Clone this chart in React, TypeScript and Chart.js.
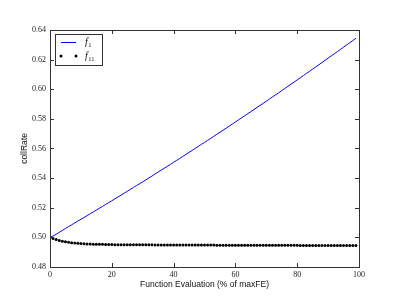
import React, { useEffect, useRef } from "react";
import { Chart, registerables } from "chart.js";

Chart.register(...registerables);

const evals = [
  0, 1, 2, 3, 4, 5, 6, 7, 8, 9, 10, 11, 12, 13, 14, 15, 16, 17, 18, 19,
  20, 21, 22, 23, 24, 25, 26, 27, 28, 29, 30, 31, 32, 33, 34, 35, 36, 37, 38, 39,
  40, 41, 42, 43, 44, 45, 46, 47, 48, 49, 50, 51, 52, 53, 54, 55, 56, 57, 58, 59,
  60, 61, 62, 63, 64, 65, 66, 67, 68, 69, 70, 71, 72, 73, 74, 75, 76, 77, 78, 79,
  80, 81, 82, 83, 84, 85, 86, 87, 88, 89, 90, 91, 92, 93, 94, 95, 96, 97, 98, 99,
];

const f1Values = [
  0.5, 0.5009, 0.5021, 0.5034, 0.5047, 0.506, 0.5073, 0.5085, 0.5097, 0.511,
  0.5122, 0.5134, 0.5147, 0.5159, 0.5172, 0.5184, 0.5197, 0.5209, 0.5222, 0.5235,
  0.5247, 0.526, 0.5273, 0.5285, 0.5298, 0.5311, 0.5324, 0.5337, 0.535, 0.5362,
  0.5375, 0.5388, 0.5401, 0.5414, 0.5428, 0.5441, 0.5454, 0.5467, 0.548, 0.5493,
  0.5507, 0.552, 0.5533, 0.5547, 0.556, 0.5574, 0.5587, 0.5601, 0.5614, 0.5628,
  0.5641, 0.5655, 0.5668, 0.5682, 0.5696, 0.571, 0.5723, 0.5737, 0.5751, 0.5765,
  0.5779, 0.5793, 0.5807, 0.5821, 0.5835, 0.5849, 0.5863, 0.5877, 0.5891, 0.5905,
  0.5919, 0.5933, 0.5948, 0.5962, 0.5976, 0.5991, 0.6005, 0.602, 0.6034, 0.6048,
  0.6063, 0.6077, 0.6092, 0.6107, 0.6121, 0.6136, 0.6151, 0.6165, 0.618, 0.6195,
  0.621, 0.6225, 0.6239, 0.6254, 0.6269, 0.6284, 0.6299, 0.6314, 0.6329, 0.6344,
];

const f11Values = [
  0.5, 0.4992, 0.4985, 0.4979, 0.4974, 0.497, 0.4967, 0.4964, 0.4962, 0.496,
  0.4958, 0.4957, 0.4956, 0.4955, 0.4954, 0.4954, 0.4953, 0.4953, 0.4952, 0.4952,
  0.4952, 0.4951, 0.4951, 0.4951, 0.4951, 0.4951, 0.495, 0.495, 0.495, 0.495,
  0.495, 0.495, 0.495, 0.495, 0.4949, 0.4949, 0.4949, 0.4949, 0.4949, 0.4949,
  0.4949, 0.4949, 0.4949, 0.4948, 0.4948, 0.4948, 0.4948, 0.4948, 0.4948, 0.4948,
  0.4948, 0.4948, 0.4948, 0.4948, 0.4947, 0.4947, 0.4947, 0.4947, 0.4947, 0.4947,
  0.4947, 0.4947, 0.4947, 0.4947, 0.4947, 0.4947, 0.4946, 0.4946, 0.4946, 0.4946,
  0.4946, 0.4946, 0.4946, 0.4946, 0.4946, 0.4946, 0.4946, 0.4946, 0.4946, 0.4946,
  0.4946, 0.4945, 0.4945, 0.4945, 0.4945, 0.4945, 0.4945, 0.4945, 0.4945, 0.4945,
  0.4945, 0.4945, 0.4945, 0.4945, 0.4945, 0.4945, 0.4945, 0.4945, 0.4945, 0.4945,
];

const xTicks = [0, 20, 40, 60, 80, 100];
const yTicks = [0.48, 0.5, 0.52, 0.54, 0.56, 0.58, 0.6, 0.62, 0.64];
const xTitle = "Function Evaluation (% of maxFE)";
const yTitle = "collRate";
const seriesNames = [
  { base: "f", sub: "1" },
  { base: "f", sub: "11" },
];

const framePlugin = {
  id: "frameAndLegend",
  afterDraw(chart: any) {
    const { ctx, chartArea, scales } = chart;
    const { left, right, top, bottom } = chartArea;
    const x = scales.x;
    const y = scales.y;
    ctx.save();
    ctx.strokeStyle = "#333";
    ctx.lineWidth = 1;
    ctx.strokeRect(Math.round(left) + 0.5, Math.round(top) + 0.5, Math.round(right - left), Math.round(bottom - top));
    const tl = 4;
    ctx.beginPath();
    xTicks.forEach((v) => {
      const px = Math.round(x.getPixelForValue(v)) + 0.5;
      ctx.moveTo(px, bottom);
      ctx.lineTo(px, bottom - tl);
      ctx.moveTo(px, top);
      ctx.lineTo(px, top + tl);
    });
    yTicks.forEach((v) => {
      const py = Math.round(y.getPixelForValue(v)) + 0.5;
      ctx.moveTo(left, py);
      ctx.lineTo(left + tl, py);
      ctx.moveTo(right, py);
      ctx.lineTo(right - tl, py);
    });
    ctx.stroke();

    // axis titles
    ctx.fillStyle = "#111";
    ctx.font = "8.5px 'Liberation Sans', Arial, sans-serif";
    ctx.textAlign = "center";
    ctx.textBaseline = "middle";
    ctx.fillText(xTitle, (left + right) / 2, 285);
    ctx.save();
    ctx.translate(25, (top + bottom) / 2);
    ctx.rotate(-Math.PI / 2);
    ctx.fillText(yTitle, 0, 0);
    ctx.restore();

    // legend
    const bx = 55.5, by = 34.5, bw = 47, bh = 31;
    ctx.fillStyle = "#fff";
    ctx.fillRect(bx, by, bw, bh);
    ctx.strokeStyle = "#333";
    ctx.strokeRect(bx, by, bw, bh);
    const rows = [42, 56];
    ctx.strokeStyle = "#0000ff";
    ctx.beginPath();
    ctx.moveTo(61, rows[0] + 0.5);
    ctx.lineTo(76, rows[0] + 0.5);
    ctx.stroke();
    ctx.fillStyle = "#000";
    [61, 76].forEach((cx) => {
      ctx.beginPath();
      ctx.arc(cx, rows[1], 1.5, 0, Math.PI * 2);
      ctx.fill();
    });
    ctx.fillStyle = "#111";
    ctx.textAlign = "left";
    seriesNames.forEach((s, i) => {
      ctx.font = "italic 10px 'Liberation Serif', 'DejaVu Serif', serif";
      ctx.textBaseline = "middle";
      ctx.fillText(s.base, 85, rows[i]);
      const w = ctx.measureText(s.base).width;
      ctx.font = "6.5px 'Liberation Serif', 'DejaVu Serif', serif";
      ctx.fillText(s.sub, 85 + w + 0.5, rows[i] + 3);
    });
    ctx.restore();
  },
};

export default function App() {
  const ref = useRef<HTMLCanvasElement | null>(null);
  useEffect(() => {
    if (!ref.current) return;
    const chart = new Chart(ref.current, {
      type: "line",
      data: {
        datasets: [
          {
            label: "f1",
            data: evals.map((e, i) => ({ x: e, y: f1Values[i] })),
            borderColor: "#0000ff",
            borderWidth: 1,
            pointRadius: 0,
            tension: 0,
            fill: false,
          },
          {
            label: "f11",
            data: evals.map((e, i) => ({ x: e, y: f11Values[i] })),
            showLine: false,
            pointRadius: 1.5,
            pointBackgroundColor: "#000",
            pointBorderWidth: 0,
            borderColor: "#000",
          },
        ],
      },
      options: {
        animation: false,
        responsive: false,
        events: [],
        layout: { padding: { left: 0, top: 30, right: 40, bottom: 0 } },
        plugins: { legend: { display: false }, tooltip: { enabled: false } },
        scales: {
          x: {
            type: "linear",
            min: 0,
            max: 100,
            grid: { display: false, drawTicks: false },
            border: { display: false },
            afterFit: (s: any) => {
              s.height = 30;
            },
            afterBuildTicks: (s: any) => {
              s.ticks = xTicks.map((v) => ({ value: v }));
            },
            ticks: {
              padding: 3,
              color: "#222",
              font: { family: "'Liberation Serif', serif", size: 8 },
              callback: (v: any) => String(v),
            },
          },
          y: {
            type: "linear",
            min: 0.48,
            max: 0.64,
            grid: { display: false, drawTicks: false },
            border: { display: false },
            afterFit: (s: any) => {
              s.width = 50;
            },
            afterBuildTicks: (s: any) => {
              s.ticks = yTicks.map((v) => ({ value: v }));
            },
            ticks: {
              padding: 4,
              color: "#222",
              font: { family: "'Liberation Serif', serif", size: 8 },
              callback: (v: any) => Number(v).toFixed(2),
            },
          },
        },
      },
      plugins: [framePlugin],
    });
    return () => chart.destroy();
  }, []);
  return (
    <div style={{ position: "fixed", left: 0, top: 0, width: 399, height: 297, background: "#fff" }}>
      <canvas ref={ref} width={399} height={297} style={{ display: "block" }} />
    </div>
  );
}
